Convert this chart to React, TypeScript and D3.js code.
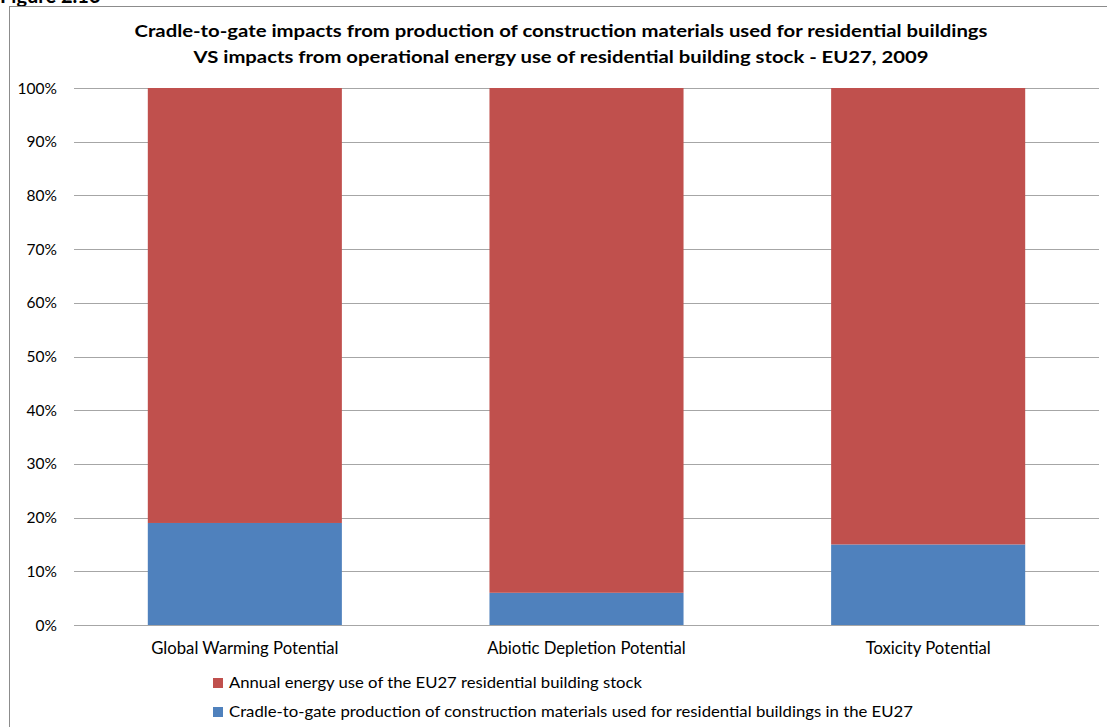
import React from "react";
import * as d3 from "d3";

const categories = ["Global Warming Potential", "Abiotic Depletion Potential", "Toxicity Potential"];
const materialsShare = [0.19, 0.06, 0.15];
const energyShare = [0.81, 0.94, 0.85];
const yTicks = [0, 0.1, 0.2, 0.3, 0.4, 0.5, 0.6, 0.7, 0.8, 0.9, 1.0];
const seriesNames = [
  "Annual energy use of the EU27 residential building stock",
  "Cradle-to-gate production of construction materials used for residential buildings in the EU27",
];
const titleLines = [
  "Cradle-to-gate impacts from production of construction materials used for residential buildings",
  "VS impacts from operational energy use of residential building stock - EU27, 2009",
];

const RED = "#C0504D";
const BLUE = "#4F81BD";
const FONT = "Lato, 'Open Sans', sans-serif";

export default function App() {
  const W = 1107, H = 727;
  const x = d3.scaleBand<string>().domain(categories).range([74, 1099]).paddingInner(0.432).paddingOuter(0.216);
  const y = d3.scaleLinear().domain([0, 1]).range([625, 88]);
  const rows = categories.map((c, i) => ({ cat: c, materials: materialsShare[i], energy: energyShare[i] }));
  const stack = d3.stack<any>().keys(["materials", "energy"]);
  const layers = stack(rows);
  const colors: Record<string, string> = { materials: BLUE, energy: RED };
  const fmt = d3.format(".0%");

  return (
    <svg width={W} height={H} style={{ position: "absolute", left: 0, top: 0, background: "#fff" }} fontFamily={FONT}>
      <rect x={0} y={0} width={W} height={H} fill="#fff" />
      <text x={0} y={3} fontSize={20} fontWeight="bold" fill="#000">Figure 2.16</text>
      <rect x={9.5} y={6.5} width={1110} height={740} fill="none" stroke="#8c8c8c" strokeWidth={1} />
      {titleLines.map((t, i) => (
        <text key={i} x={561} y={37 + i * 26} textAnchor="middle" fontSize={17.5} fontWeight="bold" fill="#000"
          textLength={i === 0 ? 853 : 735} lengthAdjust="spacingAndGlyphs">{t}</text>
      ))}
      {yTicks.map((t) => (
        <g key={t}>
          <line x1={74} x2={1099} y1={Math.round(y(t)) + 0.5} y2={Math.round(y(t)) + 0.5} stroke="#a6a6a6" strokeWidth={1} />
          <text x={57} y={y(t)} dy="0.36em" textAnchor="end" fontSize={15.5} fill="#000">{fmt(t)}</text>
        </g>
      ))}
      {layers.map((layer) => (
        <g key={layer.key} fill={colors[layer.key]}>
          {layer.map((d: any) => (
            <rect key={d.data.cat} x={x(d.data.cat)} y={y(d[1])} width={x.bandwidth()} height={y(d[0]) - y(d[1])} />
          ))}
        </g>
      ))}
      {categories.map((c) => (
        <text key={c} x={(x(c) as number) + x.bandwidth() / 2} y={654} textAnchor="middle" fontSize={16.7} fill="#000">{c}</text>
      ))}
      {seriesNames.map((s, i) => (
        <g key={s}>
          <rect x={213} y={678 + i * 29} width={10} height={10} fill={i === 0 ? RED : BLUE} />
          <text x={229} y={688 + i * 29} fontSize={16} fill="#000" textLength={i === 0 ? 413 : 684} lengthAdjust="spacingAndGlyphs">{s}</text>
        </g>
      ))}
    </svg>
  );
}
